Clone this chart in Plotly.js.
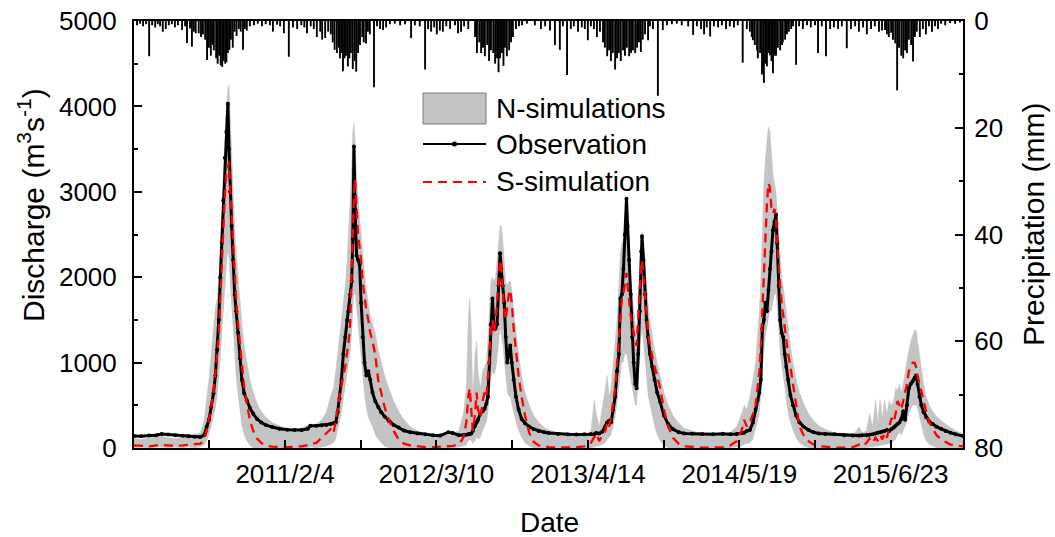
<!DOCTYPE html>
<html><head><meta charset="utf-8">
<script src="https://cdn.plot.ly/plotly-3.0.1.min.js"></script>
<style>html,body{margin:0;padding:0;background:#fff}#chart{width:1055px;height:537px}</style>
</head><body><div id="chart"></div>
<script>
// ---- Discharge data (m3/s) ----
const qDate = [
'2010-01-01','2010-01-20','2010-02-10','2010-03-01','2010-03-15','2010-04-01','2010-04-20','2010-05-10','2010-05-25','2010-06-10','2010-06-25',
'2010-07-05','2010-07-12','2010-07-18','2010-07-24','2010-07-30','2010-08-04','2010-08-09','2010-08-13','2010-08-17','2010-08-21','2010-08-25','2010-08-29',
'2010-09-02','2010-09-06','2010-09-09','2010-09-12','2010-09-16','2010-09-20','2010-09-24','2010-09-28','2010-10-03','2010-10-08','2010-10-13','2010-10-19',
'2010-10-26','2010-11-03','2010-11-12','2010-11-22','2010-12-03','2010-12-15',
'2011-01-01','2011-01-20','2011-02-10','2011-03-01','2011-03-20','2011-04-05','2011-04-12','2011-04-28','2011-05-12','2011-05-24','2011-06-04','2011-06-12',
'2011-06-18','2011-06-23','2011-06-28','2011-07-03','2011-07-08','2011-07-13','2011-07-18','2011-07-22','2011-07-26','2011-07-30','2011-08-02','2011-08-05',
'2011-08-08','2011-08-12','2011-08-16','2011-08-20','2011-08-24','2011-08-28','2011-09-02','2011-09-07','2011-09-12','2011-09-17','2011-09-23','2011-09-30',
'2011-10-08','2011-10-16','2011-10-25','2011-11-05','2011-11-18','2011-12-01','2011-12-15',
'2012-01-01','2012-01-20','2012-02-10','2012-03-01','2012-03-20','2012-04-10','2012-04-22','2012-05-08','2012-05-20','2012-05-28','2012-06-02','2012-06-06',
'2012-06-10','2012-06-14','2012-06-20','2012-06-24','2012-06-28','2012-07-04','2012-07-10','2012-07-15','2012-07-20','2012-07-24','2012-07-28','2012-08-01',
'2012-08-05','2012-08-09','2012-08-13','2012-08-17','2012-08-21','2012-08-25','2012-08-28','2012-09-01','2012-09-05','2012-09-09','2012-09-13','2012-09-17',
'2012-09-21','2012-09-25','2012-09-30','2012-10-06','2012-10-13','2012-10-21','2012-10-30','2012-11-10','2012-11-22','2012-12-05','2012-12-20',
'2013-01-01','2013-01-25','2013-02-20','2013-03-15','2013-04-05','2013-04-22','2013-05-01','2013-05-06','2013-05-14','2013-05-22','2013-05-30','2013-06-04',
'2013-06-09','2013-06-14','2013-06-20','2013-06-25','2013-06-30','2013-07-05','2013-07-09','2013-07-13','2013-07-17','2013-07-21','2013-07-25','2013-07-28',
'2013-08-01','2013-08-05','2013-08-09','2013-08-13','2013-08-17','2013-08-21','2013-08-25','2013-08-29','2013-09-02','2013-09-04','2013-09-08','2013-09-12',
'2013-09-16','2013-09-20','2013-09-25','2013-10-01','2013-10-07','2013-10-14','2013-10-22','2013-11-01','2013-11-12','2013-11-25','2013-12-10','2013-12-25',
'2014-01-15','2014-02-10','2014-03-10','2014-04-05','2014-04-25','2014-05-12','2014-05-25','2014-06-01','2014-06-08','2014-06-16','2014-06-24','2014-07-01',
'2014-07-06','2014-07-11','2014-07-15','2014-07-19','2014-07-23','2014-07-27','2014-07-31','2014-08-04','2014-08-08','2014-08-12','2014-08-16','2014-08-20',
'2014-08-24','2014-08-27','2014-08-31','2014-09-04','2014-09-08','2014-09-12','2014-09-16','2014-09-20','2014-09-25','2014-10-01','2014-10-08','2014-10-16',
'2014-10-25','2014-11-05','2014-11-18','2014-12-01','2014-12-15',
'2015-01-01','2015-01-25','2015-02-20','2015-03-15','2015-04-01','2015-04-08','2015-04-20','2015-04-28','2015-05-06','2015-05-14','2015-05-20','2015-05-26',
'2015-06-01','2015-06-07','2015-06-13','2015-06-19','2015-06-25','2015-07-01','2015-07-06','2015-07-11','2015-07-16','2015-07-21','2015-07-26','2015-07-31',
'2015-08-05','2015-08-10','2015-08-15','2015-08-20','2015-08-25','2015-08-29','2015-09-02','2015-09-07','2015-09-12','2015-09-18','2015-09-25','2015-10-03',
'2015-10-12','2015-10-22','2015-11-03','2015-11-15','2015-11-28','2015-12-12','2015-12-31'
];
const qObs = [
140,138,145,150,165,158,148,142,138,132,128,
150,250,330,480,640,850,1150,1500,2000,2400,2900,3400,
3700,4030,3500,3000,2600,2200,1800,1600,1350,1050,800,640,
560,470,400,340,300,270,
245,225,215,210,212,225,260,260,265,270,280,290,
300,420,580,800,1100,1300,1500,1600,1800,1950,2450,3530,
2800,2250,2200,2150,1700,1300,1000,850,900,800,650,550,
480,420,370,320,270,240,205,
185,170,160,150,145,185,175,150,150,155,160,165,
170,200,260,300,330,400,430,460,520,600,1000,1450,
1750,1400,1400,1450,1900,2280,2100,1900,1700,1300,1000,1100,
1200,1000,800,600,450,340,290,250,220,200,185,
175,165,160,158,160,165,160,175,170,190,250,300,
320,300,450,600,900,1100,1750,1800,2100,2500,2920,2600,
2200,1800,1300,1000,750,700,1100,1600,2300,2480,2200,1800,
1500,1300,1100,950,800,650,540,380,280,220,185,170,
168,165,160,168,160,165,175,180,200,210,300,450,
560,650,800,1400,1500,1700,1600,1850,2100,2300,2550,2650,
2730,2400,1900,1500,1350,1300,1100,950,800,620,500,380,
300,250,210,185,170,
165,160,150,145,145,150,150,155,160,170,180,185,
190,200,210,200,220,240,260,280,300,340,430,330,
500,700,750,780,820,850,750,600,500,420,360,310,
280,250,225,200,180,160,140
];
const qSim = [
30,25,20,30,35,30,25,30,40,45,50,
90,200,320,480,650,900,1050,1300,1750,2150,2700,2950,
3200,3300,3350,3050,2700,2400,2050,1750,1450,1200,950,720,
520,330,200,110,60,30,
15,10,10,15,20,35,50,60,120,170,220,170,
300,450,600,750,850,950,1100,1250,1450,2000,2600,2950,
3150,2800,2500,2350,2200,1950,1750,1600,1500,1350,1250,1100,
800,650,480,330,200,100,50,
30,20,10,10,15,20,25,40,120,300,600,700,
450,200,400,650,450,350,550,650,600,800,1100,1400,
1500,1350,1450,1700,2000,2200,2150,1900,1600,1500,1650,1800,
1850,1700,1400,1100,850,600,380,180,70,30,15,
10,5,5,10,20,60,130,170,80,150,200,300,
250,350,550,700,1000,1300,1600,1750,1800,1950,2050,1900,
1700,1550,1450,1350,1250,1200,1500,1900,2150,2200,2000,1700,
1500,1350,1200,1050,950,850,700,450,250,120,50,20,
10,5,5,10,30,80,200,330,250,300,400,500,
700,900,1200,1600,2200,2600,2850,3100,3050,2800,2750,2800,
2700,2400,2100,1900,1700,1550,1400,1300,1100,950,750,500,
250,150,80,40,20,
15,5,5,10,40,20,60,110,60,120,80,150,
100,180,120,250,350,300,400,550,500,450,550,650,
750,900,950,1000,1000,950,850,750,650,550,420,300,
220,150,100,70,40,30,20
];
const qLow = [
0,5,0,10,5,0,5,0,10,0,10,
30,80,150,250,350,450,600,800,1000,1300,1600,1900,
2100,2300,2200,1900,1600,1300,1000,800,600,400,250,150,
80,30,0,0,0,0,
0,0,0,0,0,0,10,0,10,20,40,60,
100,200,300,400,550,700,850,950,1100,1300,1500,1800,
1800,1600,1400,1200,1000,800,600,450,350,300,250,150,
100,60,20,0,0,0,0,
0,0,0,0,0,0,0,10,20,30,80,100,
80,50,80,120,100,120,200,250,300,400,600,800,
900,850,900,1000,1200,1400,1300,1200,1000,800,650,600,
600,500,400,300,200,120,60,20,0,0,0,
0,0,0,0,0,0,10,20,20,40,60,100,
120,150,250,350,500,700,900,1000,1000,1100,1100,1000,
900,800,700,600,500,500,700,1000,1300,1400,1200,1000,
800,600,500,350,250,150,80,30,0,0,0,0,
0,0,0,0,0,10,20,40,50,60,100,200,
300,400,600,900,1100,1300,1400,1500,1600,1600,1700,1800,
1800,1600,1300,1100,950,850,700,550,400,300,200,120,
60,20,0,0,0,
0,0,0,0,0,0,0,10,10,20,20,30,
30,40,40,50,60,80,100,150,180,150,200,250,
300,400,450,500,500,500,450,350,250,150,80,40,
20,0,0,0,0,0,0
];
const qHigh = [
110,100,120,130,140,120,110,130,140,160,180,
320,550,800,1100,1400,1650,1750,1950,2350,2800,3300,3700,
4000,4200,4250,3900,3400,3000,2600,2300,2000,1700,1450,1200,
1000,800,650,520,430,360,
300,260,230,220,230,270,250,280,330,420,600,700,
900,1100,1300,1500,1700,1900,2200,2500,2900,3300,3700,3800,
3600,3200,2900,2700,2500,2250,2050,1850,1700,1550,1450,1350,
1150,1000,850,700,550,430,330,
250,200,170,150,140,160,170,200,400,700,1500,1750,
1400,600,1100,1250,900,700,900,950,1000,1300,1700,1950,
2000,1950,2000,2200,2450,2600,2600,2450,2200,1950,1900,1950,
1950,1850,1600,1350,1100,850,650,500,380,300,240,
210,180,160,150,150,200,560,400,250,450,700,850,
600,700,1000,1300,1500,1900,2300,2400,2450,2550,2600,2500,
2300,2000,1800,1600,1450,1400,1700,2200,2450,2530,2400,2150,
1900,1700,1500,1300,1150,1000,850,650,500,380,290,230,
200,170,160,160,180,250,400,500,450,600,800,1000,
1300,1600,2000,2600,3100,3400,3600,3760,3700,3400,3200,3100,
3000,2800,2500,2200,2000,1900,1750,1600,1400,1200,1000,800,
650,520,400,320,260,
220,180,160,150,250,180,200,400,250,560,300,570,
350,560,400,550,500,550,700,680,750,650,750,900,
1000,1150,1250,1320,1380,1380,1250,1050,900,750,600,500,
430,370,320,280,240,200,170
];

// ---- Daily precipitation (mm) ----
const precipDate = [
'2010-01-09','2010-01-17','2010-01-25','2010-02-02','2010-02-10','2010-02-18','2010-02-26','2010-03-05','2010-03-11','2010-03-18','2010-03-26','2010-04-03',
'2010-04-11','2010-04-19','2010-04-27','2010-05-08','2010-05-16','2010-05-21','2010-05-29','2010-06-03','2010-06-08','2010-06-13','2010-06-21','2010-06-27',
'2010-07-02','2010-07-08','2010-07-13','2010-07-18','2010-07-23','2010-07-27','2010-07-31','2010-08-06','2010-08-10','2010-08-14','2010-08-18','2010-08-22',
'2010-08-26','2010-08-30','2010-09-02','2010-09-06','2010-09-10','2010-09-14','2010-09-19','2010-09-24','2010-09-29','2010-10-05','2010-10-10','2010-10-16',
'2010-10-21','2010-10-26','2010-11-03','2010-11-14','2010-11-24','2010-12-05','2010-12-15','2010-12-26',
'2011-01-03','2011-01-14','2011-01-22','2011-02-01','2011-02-14','2011-02-25','2011-03-08','2011-03-19','2011-03-27','2011-04-03','2011-04-13','2011-04-21',
'2011-04-29','2011-05-08','2011-05-13','2011-05-21','2011-05-29','2011-06-05','2011-06-10','2011-06-15','2011-06-21','2011-06-26','2011-06-29','2011-07-03',
'2011-07-07','2011-07-11','2011-07-15','2011-07-20','2011-07-24','2011-07-28','2011-08-02','2011-08-07','2011-08-11','2011-08-16','2011-08-21','2011-08-27',
'2011-08-31','2011-09-06','2011-09-11','2011-09-16','2011-09-27','2011-10-05','2011-10-13','2011-10-21','2011-10-29','2011-11-08','2011-11-21','2011-12-05',
'2011-12-18',
'2012-01-03','2012-01-13','2012-01-26','2012-02-09','2012-02-17','2012-02-25','2012-03-04','2012-03-11','2012-03-19','2012-03-27','2012-04-05','2012-04-15',
'2012-04-28','2012-05-06','2012-05-14','2012-05-22','2012-06-02','2012-06-20','2012-06-25','2012-07-01','2012-07-06','2012-07-11','2012-07-16','2012-07-22',
'2012-07-27','2012-08-01','2012-08-07','2012-08-12','2012-08-17','2012-08-21','2012-08-25','2012-08-30','2012-09-03','2012-09-07','2012-09-12','2012-09-18',
'2012-09-23','2012-09-28','2012-10-06','2012-10-14','2012-10-22','2012-11-04','2012-11-25','2012-12-11','2012-12-22',
'2013-01-04','2013-01-17','2013-01-30','2013-02-07','2013-02-18','2013-02-28','2013-03-08','2013-03-19','2013-03-29','2013-04-06','2013-04-14','2013-04-22',
'2013-04-30','2013-05-08','2013-05-16','2013-05-24','2013-05-29','2013-06-04','2013-06-09','2013-06-14','2013-06-19','2013-06-25','2013-06-30','2013-07-05',
'2013-07-10','2013-07-16','2013-07-21','2013-07-26','2013-08-01','2013-08-06','2013-08-11','2013-08-17','2013-08-22','2013-08-27','2013-09-01','2013-09-06',
'2013-09-12','2013-09-20','2013-09-25','2013-10-03','2013-10-16','2013-10-29','2013-11-09','2013-11-22','2013-12-05','2013-12-18',
'2014-01-04','2014-01-17','2014-01-27','2014-02-07','2014-02-15','2014-02-22','2014-03-03','2014-03-13','2014-03-24','2014-04-03','2014-04-14','2014-04-24',
'2014-05-05','2014-05-15','2014-05-28','2014-06-08','2014-06-16','2014-06-21','2014-06-24','2014-06-29','2014-07-05','2014-07-07','2014-07-13','2014-07-18',
'2014-07-23','2014-07-27','2014-07-31','2014-08-04','2014-08-08','2014-08-12','2014-08-16','2014-08-20','2014-08-24','2014-08-29','2014-09-04','2014-09-09',
'2014-09-11','2014-09-17','2014-09-22','2014-09-27','2014-10-03','2014-10-08','2014-10-16','2014-10-24','2014-11-03','2014-11-14','2014-11-24','2014-12-05',
'2014-12-13','2014-12-23',
'2015-01-03','2015-01-14','2015-01-24','2015-02-04','2015-02-14','2015-02-27','2015-03-10','2015-03-21','2015-03-31','2015-04-11','2015-04-21','2015-05-02',
'2015-05-12','2015-05-23','2015-05-31','2015-06-08','2015-06-13','2015-06-18','2015-06-24','2015-06-29','2015-07-05','2015-07-10','2015-07-15','2015-07-21',
'2015-07-26','2015-07-31','2015-08-05','2015-08-10','2015-08-16','2015-08-21','2015-08-26','2015-08-31','2015-09-08','2015-09-16','2015-09-24','2015-10-02',
'2015-10-10','2015-10-18','2015-10-26','2015-11-03','2015-11-14','2015-11-27','2015-12-10','2015-12-23'
];
const precipMm = [
0.8,0.5,1.0,0.6,6.6,0.8,1.2,0.6,1.0,2.0,1.5,0.8,
0.6,1.2,0.8,1.7,1.0,4.1,1.4,4.8,2.0,2.3,2.3,3.0,
2.5,3.5,7.3,5.0,6.5,4.5,5.5,7.0,8.0,6.5,8.3,8.6,
7.5,8.0,7.7,6.0,5.4,3.5,5.0,2.0,2.8,1.5,2.0,5.4,
1.5,1.8,1.0,0.8,0.5,1.0,0.6,0.8,
2.0,0.7,1.0,2.3,6.7,1.2,1.5,0.8,1.2,2.3,1.0,1.5,
3.0,2.0,3.5,3.2,2.0,2.5,4.0,5.4,6.0,5.0,7.0,6.0,
9.4,7.0,6.5,8.5,7.0,6.0,9.0,7.5,9.5,6.0,4.5,3.0,
4.0,4.2,2.0,2.5,12.4,1.0,1.5,1.7,1.2,0.6,0.5,0.8,
0.6,
3.2,0.8,1.0,9.1,1.5,2.0,1.2,2.5,1.8,2.0,1.0,1.5,
0.8,2.3,2.0,1.0,1.5,3.0,6.0,4.0,6.0,5.0,6.6,4.5,
7.5,5.5,6.0,8.0,7.0,9.6,7.0,6.0,8.4,5.0,6.6,5.5,
4.0,3.0,1.5,1.0,0.8,0.5,0.8,1.5,1.0,
1.8,4.5,5.4,1.0,10.1,1.5,1.0,2.0,1.2,1.5,3.6,1.0,
1.5,3.0,2.0,4.0,5.0,6.6,5.5,7.5,6.0,9.1,7.0,6.0,
7.5,5.5,6.5,5.0,6.6,6.0,5.5,6.0,5.0,4.0,5.8,3.5,
2.5,3.6,1.0,1.5,14.0,1.7,0.8,0.6,0.5,0.8,
1.0,2.6,1.0,1.5,2.5,1.2,2.9,1.0,1.2,0.8,1.5,1.0,
1.2,0.8,7.8,1.5,2.0,3.0,3.6,4.5,5.5,7.0,6.0,10.0,
11.6,8.0,8.5,6.0,6.4,7.5,9.8,6.5,6.5,5.0,5.5,4.5,
4.0,3.5,2.5,2.0,1.5,1.0,8.2,1.0,1.5,0.8,1.2,0.8,
6.0,1.0,
6.6,1.5,1.2,1.5,1.0,5.1,1.5,1.0,2.0,1.2,2.5,1.5,
1.0,2.0,1.8,1.7,2.5,3.0,2.2,3.5,4.2,13.0,5.0,6.5,
7.0,5.5,6.0,3.5,4.5,7.6,3.0,2.0,3.0,1.5,2.5,1.0,
2.0,1.0,1.5,0.5,0.8,0.4,0.5,0.3
];

// ---- Axis ticks and texts ----
const xTickVals = ['2011-02-04','2012-03-10','2013-04-14','2014-05-19','2015-06-23'];
const xTickText = ['2011/2/4','2012/3/10','2013/4/14','2014/5/19','2015/6/23'];
const xMinorVals = ['2010-07-19','2011-08-23','2012-09-26','2013-10-31','2014-12-05'];
const titleLeft = 'Discharge (m<sup>3</sup>s<sup>-1</sup>)';
const titleRight = 'Precipitation (mm)';
const titleBottom = 'Date';
const legendNames = ['N-simulations', 'Observation', 'S-simulation'];

const DAY = 86400000;
const FONT = 'Liberation Sans, Arial, Helvetica, sans-serif';
const band = '#c4c4c4';

const traces = [
  {x: qDate, y: qLow, type: 'scatter', mode: 'lines', line: {width: 0, color: band}, hoverinfo: 'skip', showlegend: false},
  {x: qDate, y: qHigh, type: 'scatter', mode: 'lines', fill: 'tonexty', fillcolor: band, line: {width: 0.5, color: band}, name: legendNames[0], showlegend: false},
  {x: qDate, y: qObs, type: 'scatter', mode: 'lines+markers', line: {color: '#000', width: 3}, marker: {color: '#000', size: 4}, name: legendNames[1], showlegend: false},
  {x: qDate, y: qSim, type: 'scatter', mode: 'lines', line: {color: '#ff0000', width: 2.3, dash: '9px,6px'}, name: legendNames[2], showlegend: false},
  {x: precipDate, y: precipMm, type: 'bar', yaxis: 'y2', width: 5 * DAY, marker: {color: '#000', line: {width: 0}}, name: 'Precipitation', showlegend: false}
];

// helpers: paper coordinates of the plot area (x 134..963, y 21..448 px)
const px = v => (v - 134) / 829;
const py = v => (448 - v) / 427;

const tickCommon = {ticks: 'inside', tickwidth: 2, tickcolor: '#000', showline: true, linewidth: 2, linecolor: '#000', showgrid: false, zeroline: false};

const layout = {
  width: 1055, height: 537,
  margin: {l: 134, r: 92, t: 21, b: 89, pad: 0},
  paper_bgcolor: '#fff', plot_bgcolor: '#fff',
  font: {family: FONT, size: 26, color: '#000'},
  showlegend: false,
  xaxis: Object.assign({}, tickCommon, {
    type: 'date', range: ['2010-01-01', '2015-12-31'],
    tickmode: 'array', tickvals: xTickVals, ticktext: xTickText, ticklen: 8,
    minor: {tickmode: 'array', tickvals: xMinorVals, ticks: 'inside', ticklen: 8, tickwidth: 2, tickcolor: '#000', showgrid: false},
    mirror: true, tickfont: {size: 26}, ticklabelstandoff: 2
  }),
  yaxis: Object.assign({}, tickCommon, {
    range: [0, 5000], tick0: 0, dtick: 1000, ticklen: 8,
    minor: {dtick: 500, ticks: 'inside', ticklen: 4, tickwidth: 2, tickcolor: '#000', showgrid: false},
    tickfont: {size: 26}, ticklabelstandoff: 10
  }),
  yaxis2: Object.assign({}, tickCommon, {
    overlaying: 'y', side: 'right', range: [80, 0], tick0: 0, dtick: 20, ticklen: 8,
    minor: {dtick: 10, ticks: 'inside', ticklen: 4, tickwidth: 2, tickcolor: '#000', showgrid: false},
    tickfont: {size: 26}, ticklabelstandoff: 4
  }),
  shapes: [
    {type: 'rect', xref: 'paper', yref: 'paper', x0: px(423), x1: px(486), y0: py(124), y1: py(93),
     fillcolor: band, line: {color: '#7a7a7a', width: 1}},
    {type: 'line', xref: 'paper', yref: 'paper', x0: px(423), x1: px(486), y0: py(144), y1: py(144),
     line: {color: '#000', width: 2}},
    {type: 'circle', xref: 'paper', yref: 'paper', xsizemode: 'pixel', ysizemode: 'pixel',
     xanchor: px(454.5), yanchor: py(144), x0: -2.5, x1: 2.5, y0: -2.5, y1: 2.5,
     fillcolor: '#000', line: {color: '#000', width: 0}},
    {type: 'line', xref: 'paper', yref: 'paper', x0: px(423), x1: px(486), y0: py(182), y1: py(182),
     line: {color: '#ff0000', width: 2, dash: '9px,6px'}}
  ],
  annotations: [
    {xref: 'paper', yref: 'paper', x: px(494), y: py(108), xanchor: 'left', yanchor: 'middle', showarrow: false,
     text: legendNames[0], font: {size: 28, family: FONT, color: '#000'}},
    {xref: 'paper', yref: 'paper', x: px(494), y: py(144), xanchor: 'left', yanchor: 'middle', showarrow: false,
     text: legendNames[1], font: {size: 28, family: FONT, color: '#000'}},
    {xref: 'paper', yref: 'paper', x: px(494), y: py(181), xanchor: 'left', yanchor: 'middle', showarrow: false,
     text: legendNames[2], font: {size: 28, family: FONT, color: '#000'}},
    {xref: 'paper', yref: 'paper', x: px(31), y: py(205), xanchor: 'center', yanchor: 'middle', showarrow: false,
     textangle: -90, text: titleLeft, font: {size: 30, family: FONT, color: '#000'}},
    {xref: 'paper', yref: 'paper', x: px(1033), y: py(225), xanchor: 'center', yanchor: 'middle', showarrow: false,
     textangle: -90, text: titleRight, font: {size: 30, family: FONT, color: '#000'}},
    {xref: 'paper', yref: 'paper', x: px(549), y: py(522), xanchor: 'center', yanchor: 'middle', showarrow: false,
     text: titleBottom, font: {size: 28, family: FONT, color: '#000'}}
  ]
};

Plotly.newPlot('chart', traces, layout, {displayModeBar: false, staticPlot: true});
</script>
</body></html>
